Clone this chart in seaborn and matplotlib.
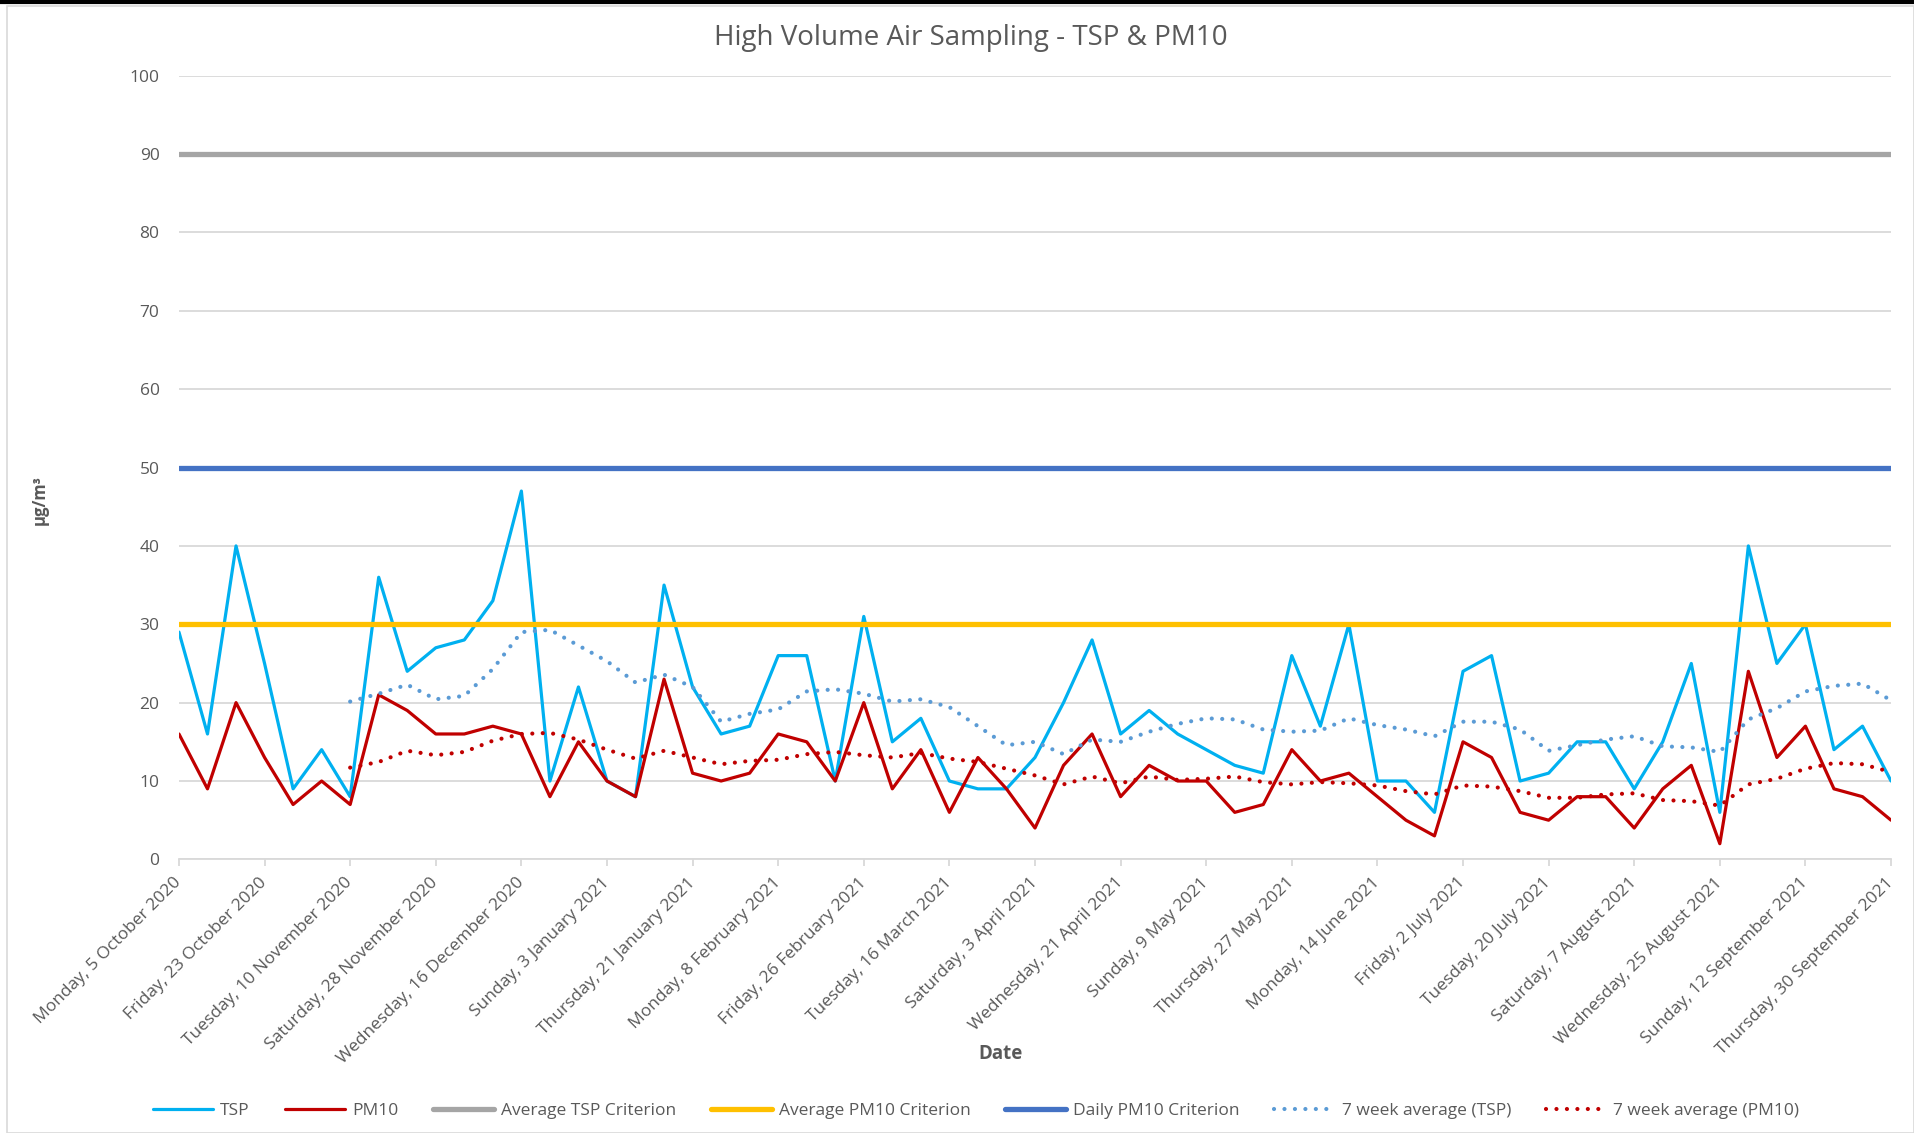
import numpy as np
import pandas as pd
import matplotlib
matplotlib.use("Agg")
import matplotlib.pyplot as plt
from matplotlib.lines import Line2D
from matplotlib.patches import Rectangle
import seaborn as sns

# ---------------- data ----------------
START_DATE = "2020-10-05"
N_SAMPLES = 61
SAMPLE_FREQ = "6D"

TSP = [29, 16, 40, 25, 9, 14, 8, 36, 24, 27, 28, 33, 47, 10, 22, 10, 8, 35, 22, 16,
       17, 26, 26, 10, 31, 15, 18, 10, 9, 9, 13, 20, 28, 16, 19, 16, 14, 12, 11, 26,
       17, 30, 10, 10, 6, 24, 26, 10, 11, 15, 15, 9, 15, 25, 6, 40, 25, 30, 14, 17, 10]

PM10 = [16, 9, 20, 13, 7, 10, 7, 21, 19, 16, 16, 17, 16, 8, 15, 10, 8, 23, 11, 10,
        11, 16, 15, 10, 20, 9, 14, 6, 13, 9, 4, 12, 16, 8, 12, 10, 10, 6, 7, 14,
        10, 11, 8, 5, 3, 15, 13, 6, 5, 8, 8, 4, 9, 12, 2, 24, 13, 17, 9, 8, 5]

NA = np.nan
TSP_7WK = [NA, NA, NA, NA, NA, NA, 20.14, 21.14, 22.29, 20.43, 20.86, 24.29, 29.00, 29.29,
           27.29, 25.29, 22.57, 23.57, 22.00, 17.57, 18.57, 19.14, 21.43, 21.71, 21.14,
           20.14, 20.43, 19.43, 17.00, 14.57, 15.00, 13.43, 15.29, 15.00, 16.29, 17.29,
           18.00, 17.86, 16.57, 16.29, 16.43, 18.00, 17.14, 16.57, 15.71, 17.57, 17.57,
           16.57, 13.86, 14.57, 15.29, 15.71, 14.43, 14.29, 13.71, 17.86, 19.29, 21.43,
           22.14, 22.43, 20.29]

PM10_7WK = [NA, NA, NA, NA, NA, NA, 11.71, 12.43, 13.86, 13.29, 13.71, 15.14, 16.00, 16.14,
            15.29, 14.00, 12.86, 13.86, 13.00, 12.14, 12.57, 12.71, 13.43, 13.71, 13.29,
            13.00, 13.57, 12.86, 12.43, 11.57, 10.71, 9.57, 10.57, 9.71, 10.57, 10.14,
            10.29, 10.57, 9.86, 9.57, 9.86, 9.71, 9.43, 8.71, 8.29, 9.43, 9.29,
            8.71, 7.86, 7.86, 8.29, 8.43, 7.57, 7.43, 6.86, 9.57, 10.29, 11.57,
            12.29, 12.14, 11.14]

AVG_TSP_CRITERION = 90
AVG_PM10_CRITERION = 30
DAILY_PM10_CRITERION = 50

TICK_LABELS = [
    "Monday, 5 October 2020", "Friday, 23 October 2020", "Tuesday, 10 November 2020",
    "Saturday, 28 November 2020", "Wednesday, 16 December 2020", "Sunday, 3 January 2021",
    "Thursday, 21 January 2021", "Monday, 8 February 2021", "Friday, 26 February 2021",
    "Tuesday, 16 March 2021", "Saturday, 3 April 2021", "Wednesday, 21 April 2021",
    "Sunday, 9 May 2021", "Thursday, 27 May 2021", "Monday, 14 June 2021",
    "Friday, 2 July 2021", "Tuesday, 20 July 2021", "Saturday, 7 August 2021",
    "Wednesday, 25 August 2021", "Sunday, 12 September 2021", "Thursday, 30 September 2021",
]
TICK_EVERY = 3

TITLE = "High Volume Air Sampling - TSP & PM10"
Y_LABEL = "µg/m³"
X_LABEL = "Date"
LEGEND_LABELS = ["TSP", "PM10", "Average TSP Criterion", "Average PM10 Criterion",
                 "Daily PM10 Criterion", "7 week average (TSP)", "7 week average (PM10)"]

# ---------------- style ----------------
C_TSP = "#00B0F0"
C_PM10 = "#C00000"
C_AVG_TSP = "#A5A5A5"
C_AVG_PM10 = "#FFC000"
C_DAILY = "#4472C4"
C_MA_TSP = "#5B9BD5"
C_MA_PM10 = "#C00000"
C_TEXT = "#595959"
C_GRID = "#D9D9D9"

sns.set_theme(style="white")
plt.rcParams["font.family"] = ["Open Sans", "DejaVu Sans"]

dates = pd.date_range(START_DATE, periods=N_SAMPLES, freq=SAMPLE_FREQ)
df = pd.DataFrame({"date": dates, "TSP": TSP, "PM10": PM10,
                   "TSP_7WK": TSP_7WK, "PM10_7WK": PM10_7WK})

fig = plt.figure(figsize=(19.14, 11.33), dpi=100)
ax = fig.add_axes([0.0935, 0.2415, 0.8945, 0.6917])

LW_DATA = 2.3
LW_CRIT = 3.8
LW_MA = 3.0
dot = (0, (0.01, 2.5))

sns.lineplot(data=df, x="date", y="TSP", color=C_TSP, linewidth=LW_DATA, ax=ax, zorder=3)
sns.lineplot(data=df, x="date", y="PM10", color=C_PM10, linewidth=LW_DATA, ax=ax, zorder=4)

ax.axhline(AVG_TSP_CRITERION, color=C_AVG_TSP, linewidth=LW_CRIT, solid_capstyle="round", zorder=5)
ax.axhline(AVG_PM10_CRITERION, color=C_AVG_PM10, linewidth=LW_CRIT, solid_capstyle="round", zorder=5)
ax.axhline(DAILY_PM10_CRITERION, color=C_DAILY, linewidth=LW_CRIT, solid_capstyle="round", zorder=5)

sns.lineplot(data=df, x="date", y="TSP_7WK", color=C_MA_TSP, linewidth=LW_MA, ax=ax, zorder=6,
             linestyle=dot, dash_capstyle="round")
sns.lineplot(data=df, x="date", y="PM10_7WK", color=C_MA_PM10, linewidth=LW_MA, ax=ax, zorder=7,
             linestyle=dot, dash_capstyle="round")

# axes
ax.set_xlim(dates[0], dates[-1])
ax.set_ylim(0, 100)
ax.set_yticks(np.arange(0, 101, 10))
ax.yaxis.grid(True, color=C_GRID, linewidth=1.3)
ax.xaxis.grid(False)
for s in ["top", "right", "left"]:
    ax.spines[s].set_visible(False)
ax.spines["bottom"].set_color(C_GRID)
ax.spines["bottom"].set_linewidth(1.3)
ax.spines["bottom"].set_zorder(1)

ax.set_xticks(dates[::TICK_EVERY])
ax.set_xticklabels(TICK_LABELS, rotation=45, ha="right", va="center", rotation_mode="anchor",
                   fontsize=12.5, color=C_TEXT)
ax.tick_params(axis="x", which="major", length=5, width=1.3, color=C_GRID, pad=10, bottom=True)
ax.tick_params(axis="y", length=0, pad=14, labelsize=12.5, labelcolor=C_TEXT)
ax.set_xlabel("")
ax.set_ylabel("")

fig.text(40 / 1914, 1 - 500 / 1133, Y_LABEL, rotation=90, ha="center", va="center",
         fontsize=12, fontweight="bold", color=C_TEXT)
fig.text(1001 / 1914, 1 - 1054 / 1133, X_LABEL, ha="center", va="center",
         fontsize=13.5, fontweight="bold", color=C_TEXT)
fig.text(971 / 1914, 1 - 38 / 1133, TITLE, ha="center", va="center",
         fontsize=20, color=C_TEXT)

# legend
handles = [
    Line2D([], [], color=C_TSP, linewidth=LW_DATA),
    Line2D([], [], color=C_PM10, linewidth=LW_DATA),
    Line2D([], [], color=C_AVG_TSP, linewidth=LW_CRIT, solid_capstyle="round"),
    Line2D([], [], color=C_AVG_PM10, linewidth=LW_CRIT, solid_capstyle="round"),
    Line2D([], [], color=C_DAILY, linewidth=LW_CRIT, solid_capstyle="round"),
    Line2D([], [], color=C_MA_TSP, linewidth=LW_MA, linestyle=dot, dash_capstyle="round"),
    Line2D([], [], color=C_MA_PM10, linewidth=LW_MA, linestyle=dot, dash_capstyle="round"),
]
leg = fig.legend(handles, LEGEND_LABELS, loc="center", bbox_to_anchor=(976 / 1914, 1 - 1111 / 1133),
                 ncol=7, frameon=False, fontsize=12.5, handlelength=3.5, handletextpad=0.4,
                 columnspacing=2.0, labelcolor=C_TEXT)

# chart frame
fig.add_artist(Rectangle((7 / 1914, 0), 1 - 7 / 1914, 1 - 6 / 1133, transform=fig.transFigure,
                         fill=False, edgecolor=C_GRID, linewidth=1.2))
fig.add_artist(Line2D([0, 1], [1 - 2 / 1133, 1 - 2 / 1133], transform=fig.transFigure,
                      color="black", linewidth=3))

fig.savefig("out.png", dpi=100, facecolor="white")
